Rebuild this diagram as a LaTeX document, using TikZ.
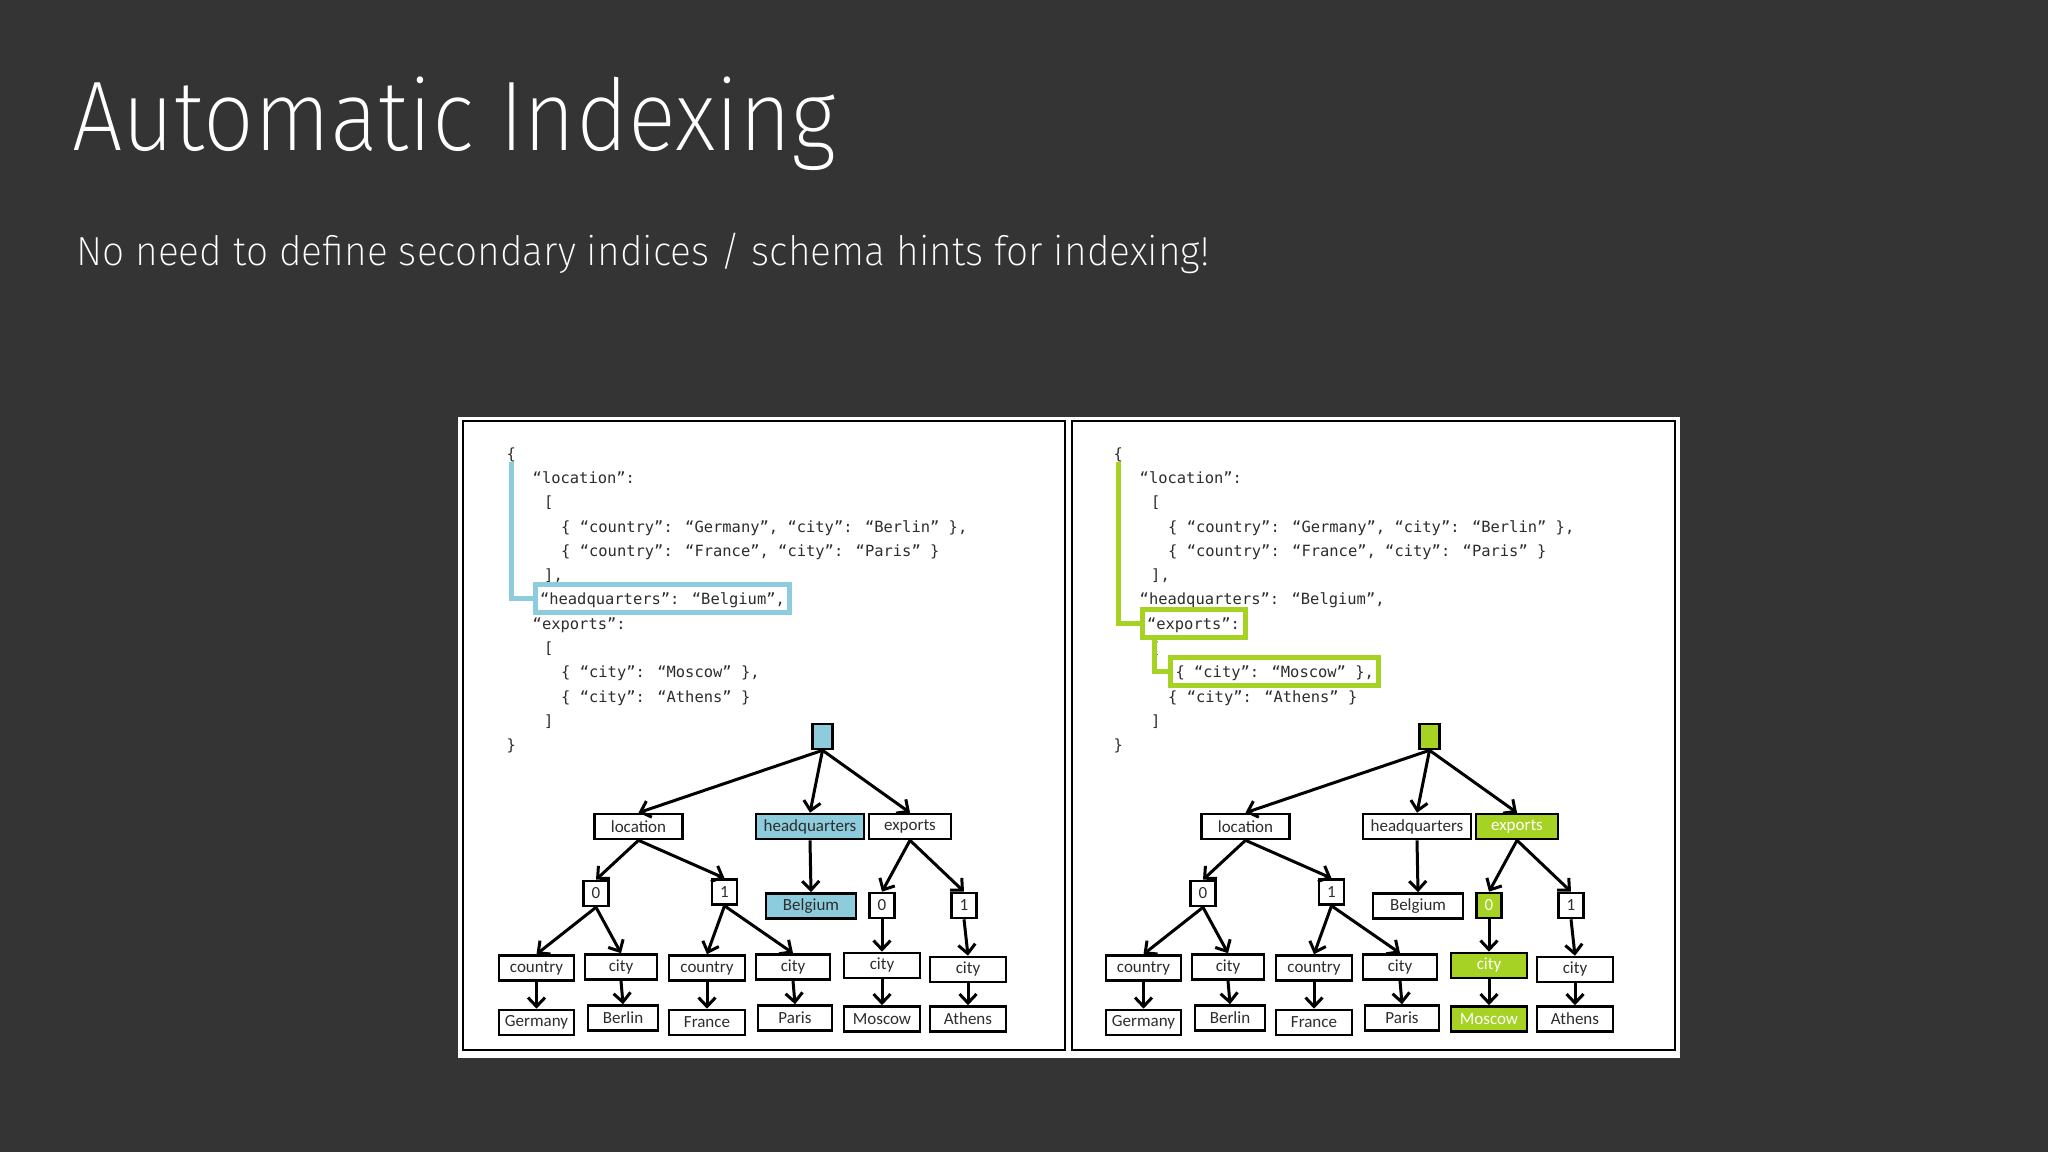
\documentclass[tikz,border=0pt]{standalone}
\usepackage{fontspec}
\usetikzlibrary{arrows.meta}
\newfontfamily\titelfont{Fira Sans ExtraLight}
\newfontfamily\codefont{DejaVu Sans Mono}
\newfontfamily\boxfont{Carlito}
\definecolor{hintergrund}{RGB}{52,52,52}
\definecolor{hiblau}{RGB}{140,204,220}
\definecolor{higruen}{RGB}{166,210,36}
\definecolor{schrift}{RGB}{45,45,45}
\tikzset{
  kasten/.style={draw=black, line width=2.6pt, fill=white, text=schrift, inner sep=0pt,
    minimum height=25pt, font=\boxfont\fontsize{17}{17}\selectfont},
  pfeil/.style={line width=3pt, -{Straight Barb[length=9pt,width=17pt]}},
  zeile/.style={anchor=base west, inner sep=0pt, text=schrift,
    font=\codefont\fontsize{15.45}{16}\selectfont},
  hlcode/.style={draw=#1, line width=5pt, inner xsep=5pt, inner ysep=4pt,
    text height=16pt, text depth=4pt},
  hlblau/.style={fill=hiblau},
  hlgruen/.style={fill=higruen, text=white},
  % Markierungen links
  L-root/.style=hlblau, L-hq/.style=hlblau, L-bel/.style=hlblau,
  L-z6/.style={hlcode=hiblau},
  % Markierungen rechts
  R-root/.style=hlgruen, R-exp/.style=hlgruen, R-enull/.style=hlgruen,
  R-cdrei/.style=hlgruen, R-mos/.style=hlgruen,
  R-z7/.style={hlcode=higruen}, R-z9/.style={hlcode=higruen},
}
\begin{document}
\begin{tikzpicture}[x=1pt, y=-1pt]
  % Hintergrund
  \fill[hintergrund] (0,0) rectangle (2048,1152);
  \node[anchor=base west, inner sep=0pt, text=white, font=\titelfont\fontsize{99}{99}\selectfont]
    (titel) at (72,150) {\scalebox{0.905}[1]{Automatic Indexing}};
  \node[anchor=base west, inner sep=0pt, text=white, font=\titelfont\fontsize{40.6}{41}\selectfont]
    (untertitel) at (76,265) {\scalebox{0.96}[1]{No need to define secondary indices / schema hints for indexing!}};
  % Bildrahmen
  \fill[white] (458,417) rectangle (1680,1058);
  \draw[line width=2pt] (463,421) rectangle (1065,1050);
  \draw[line width=2pt] (1072,421) rectangle (1675,1050);
  \foreach \p/\dx in {L/0, R/607} {
    \begin{scope}[xshift=\dx pt, name prefix=\p-]
      % JSON-Text
      \foreach \i/\xx/\txt in {
        0/506.5/\{,
        1/532.5/“location”:,
        2/544/[,
        {3/561/\{ “country”: “Germany”, “city”: “Berlin” \},},
        {4/561/\{ “country”: “France”, “city”: “Paris” \}},
        {5/544/],},
        {6/532.5/“headquarters”: “Belgium”,},
        7/532.5/“exports”:,
        8/544/[,
        {9/561/\{ “city”: “Moscow” \},},
        10/561/\{ “city”: “Athens” \},
        11/544/],
        12/506.5/\}
      } {
        \node[zeile, \p-z\i/.try] (z\i) at (\xx, {459+24.33*\i}) {\txt};
      }
      % Baum
      \foreach \k/\x/\y/\w/\txt in {
        root/822.5/736.5/20/{},
        loc/638.5/826.5/88/location,
        hq/810/826.5/108/headquarters,
        exp/910/826.5/82/exports,
        lnull/596/893.5/25/0,
        leins/724.5/892/25/1,
        bel/811/906/90/Belgium,
        enull/882/905.5/25/0,
        eeins/964/905.5/25/1,
        cone/536.5/968/75/country,
        cione/621/967/72/city,
        cotwo/707/968/76/country,
        citwo/793/967/74/city,
        cdrei/882/965.5/76/city,
        cvier/968/969.5/76/city,
        ger/536.5/1022.5/75/Germany,
        ber/623/1018/70/Berlin,
        fra/707/1022.5/76/France,
        par/795/1018/74/Paris,
        mos/882/1019/76/Moscow,
        ath/968/1019/76/Athens
      } {
        \node[kasten, minimum width=\w pt, \p-\k/.try] (\k) at (\x,\y) {\txt};
      }
      \foreach \a/\b in {root/loc, root/hq, root/exp, loc/lnull, loc/leins, hq/bel,
          exp/enull, exp/eeins, lnull/cone, lnull/cione, leins/cotwo, leins/citwo,
          enull/cdrei, eeins/cvier, cone/ger, cione/ber, cotwo/fra, citwo/par,
          cdrei/mos, cvier/ath} {
        \draw[pfeil] (\a.south) -- (\b.north);
      }
    \end{scope}
  }
  % Verbindungen im JSON-Text
  \draw[hiblau, line width=5pt] (L-z0.south) |- (L-z6.west);
  \draw[higruen, line width=5pt] (R-z0.south) |- (R-z7.west);
  \draw[higruen, line width=5pt] ([xshift=15pt]R-z7.south west) |- (R-z9.west);
\end{tikzpicture}
\end{document}
